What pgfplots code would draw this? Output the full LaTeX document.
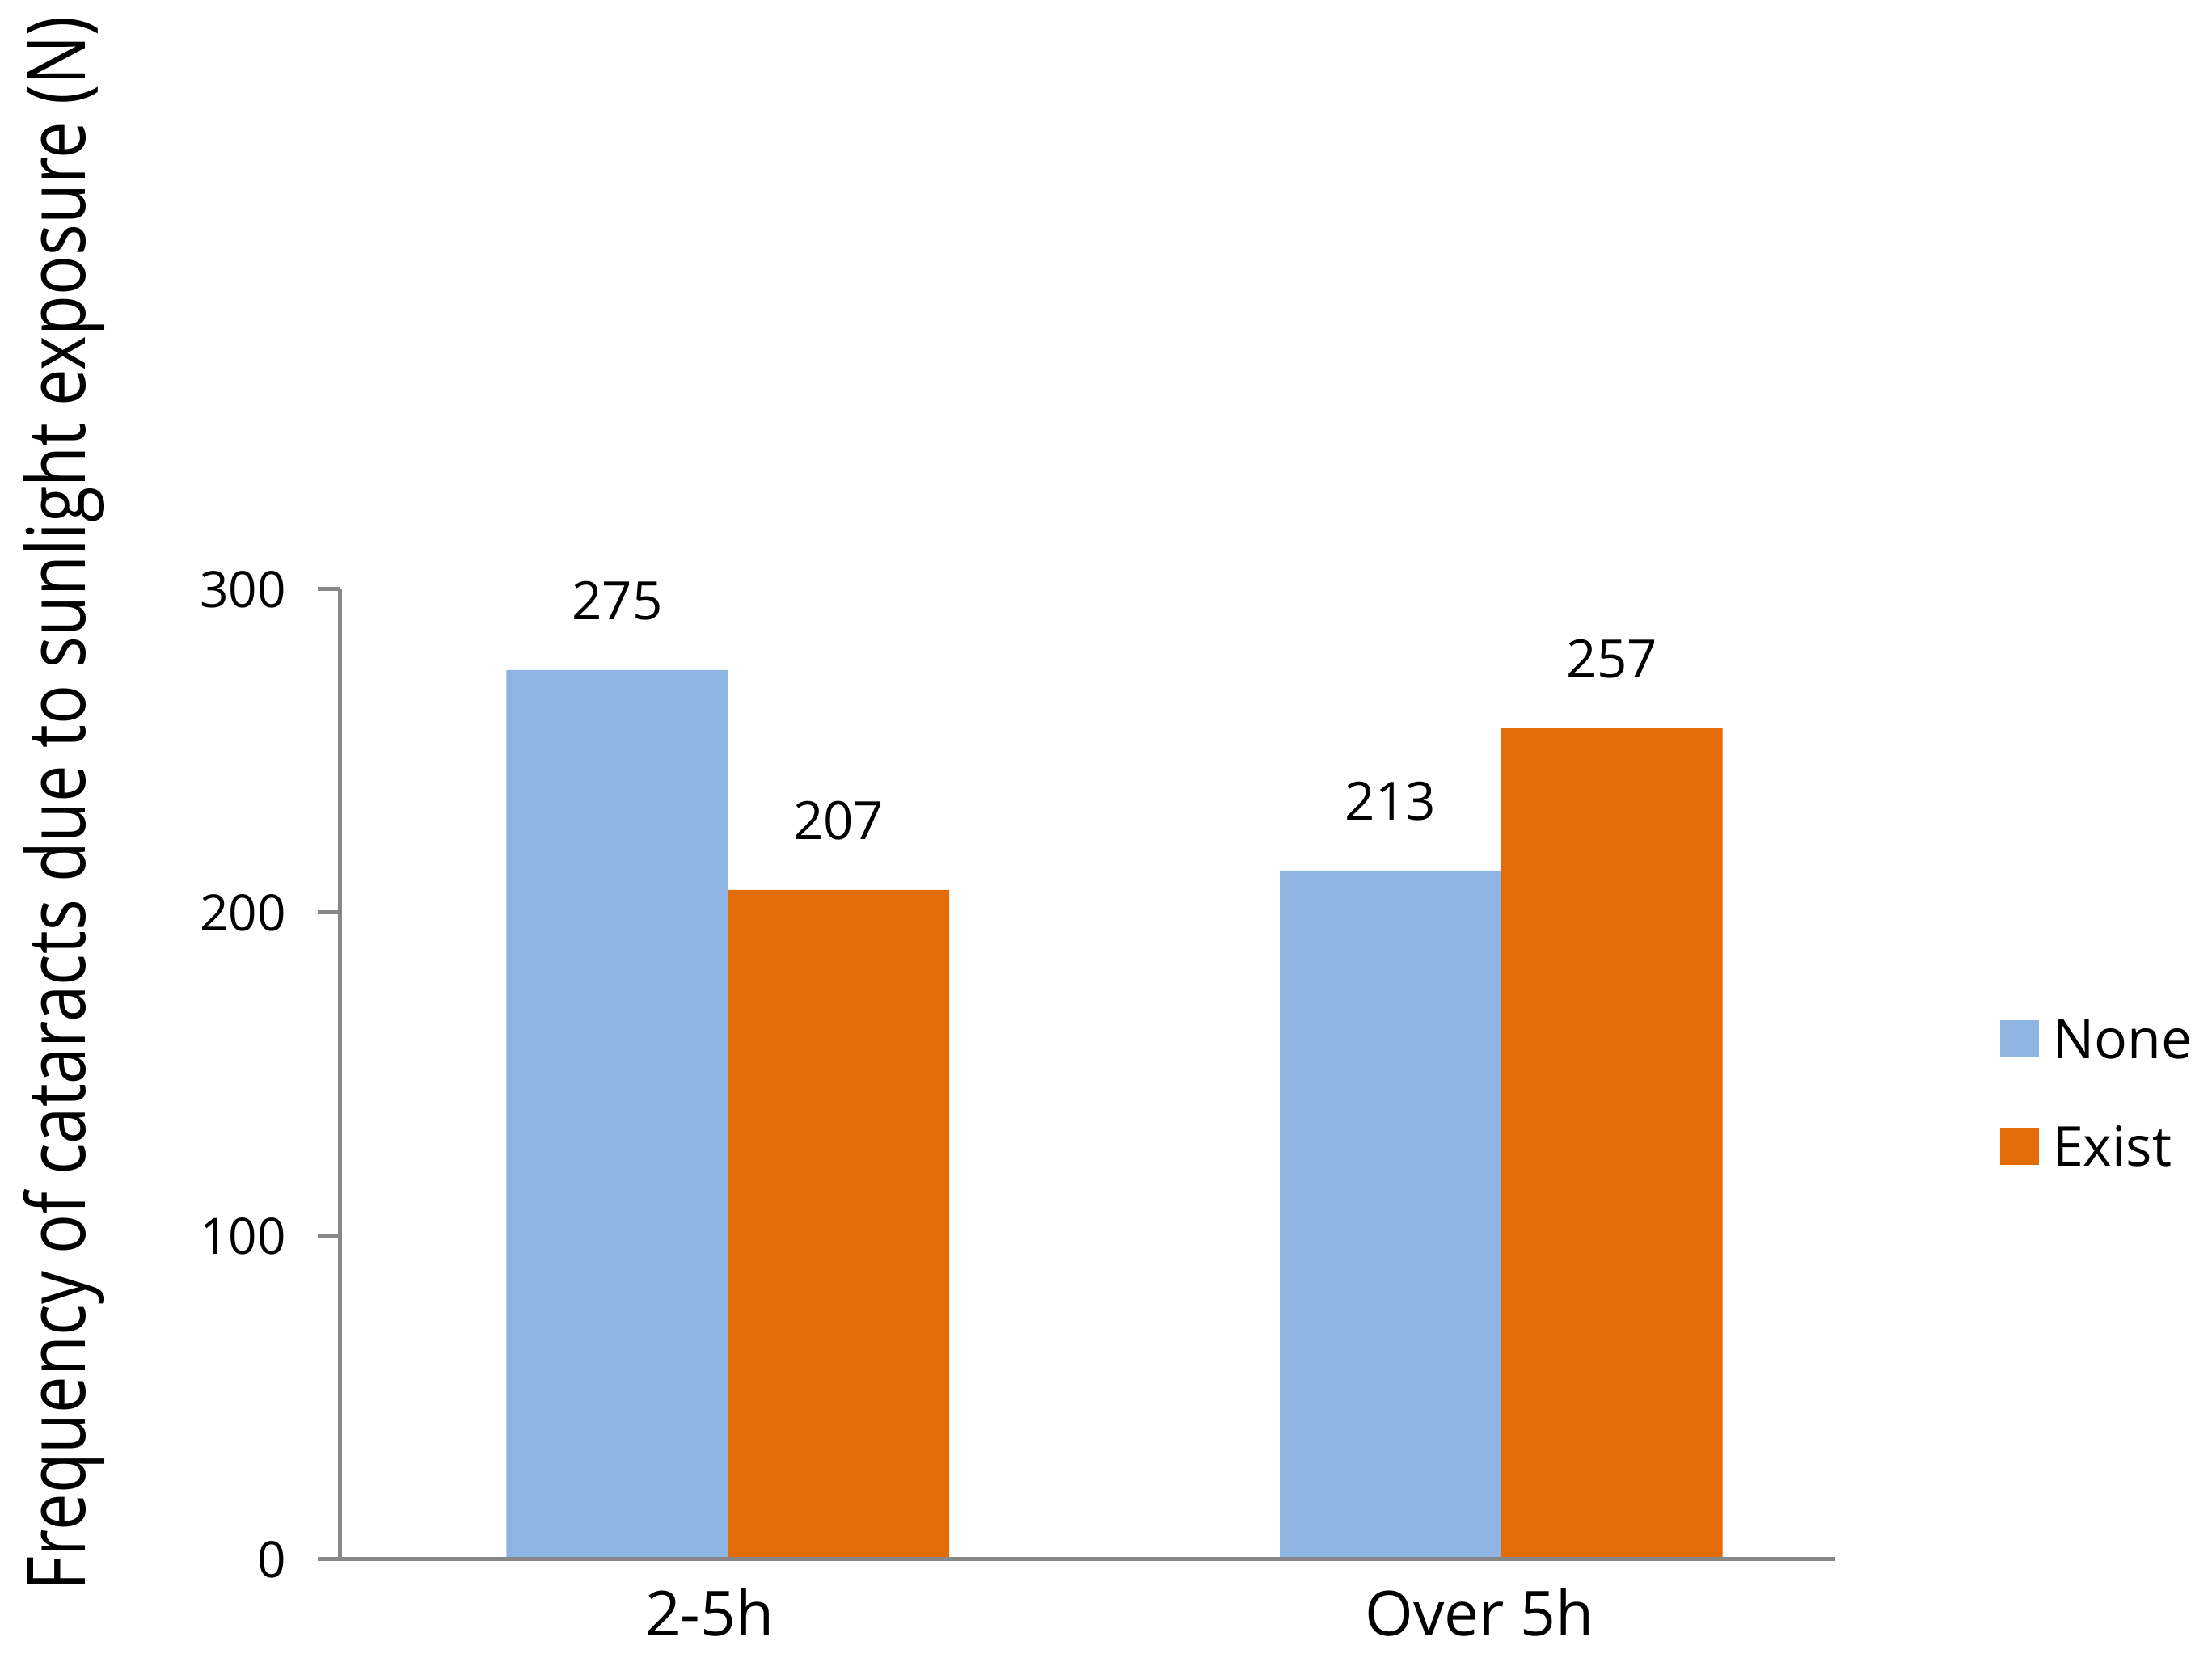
\documentclass[border=0pt]{standalone}
\usepackage{fontspec}
\setmainfont{Open Sans}
\usepackage{graphicx}
\usepackage{pgfplots}
\pgfplotsset{compat=1.18}
\definecolor{barblue}{HTML}{8EB4E3}
\definecolor{barorange}{HTML}{E36C09}
\definecolor{axisgray}{HTML}{878787}
\begin{document}
\begin{tikzpicture}
\begin{axis}[
  at={(0pt,0pt)}, anchor=south west,
  scale only axis,
  width=277.35pt, height=180pt,
  xmin=-0.501, xmax=1.4318,
  ymin=0, ymax=300,
  axis x line=bottom, axis y line=left,
  axis line style={-, draw=axisgray, line width=0.75pt},
  axis on top,
  ytick={0,100,200,300},
  xtick={-0.0235,0.9721},
  xticklabels={2-5h, Over 5h},
  tick align=outside,
  major tick length=4.2pt,
  ytick style={draw=axisgray, line width=0.75pt},
  xtick style={draw=none},
  /pgf/number format/assume math mode=true,
  yticklabel style={font=\fontsize{9.3}{11}\selectfont, anchor=east, inner sep=0pt, xshift=-5.7pt},
  xticklabel style={font=\fontsize{11.5}{14}\selectfont, anchor=base, inner sep=0pt, yshift=-10pt},
  ybar,
  bar width=0.2863,
  nodes near coords,
  nodes near coords style={font=\fontsize{9.8}{12}\selectfont, anchor=base, inner sep=0pt, yshift=9.3pt, text=black},
  legend style={at={(1.1106,0.4813)}, anchor=west, draw=none, fill=none,
    inner sep=0pt, outer sep=0pt, font=\fontsize{10.2}{12}\selectfont,
    row sep=12.7pt, column sep=2.5pt,
    nodes={inner sep=0pt, text height=7.3pt, text depth=0pt}},
  legend cell align=left,
  legend image code/.code={\fill[#1] (0pt,-3.45pt) rectangle (7.2pt,3.45pt);},
]
\addplot[fill=barblue, draw=none, bar shift=-0.1431] coordinates {(0,275) (1,213)};
\addlegendentry{None}
\addplot[fill=barorange, draw=none, bar shift=0.1431] coordinates {(0,207) (1,257)};
\addlegendentry{Exist}
\end{axis}
\node[rotate=90, anchor=base, inner sep=0pt] at (-47.4pt,140.3pt)
  {\resizebox{292pt}{\height}{\fontsize{15}{18}\selectfont Frequency of cataracts due to sunlight exposure (N)}};
\pgfresetboundingbox
\useasboundingbox (-63.15pt,-18.3pt) rectangle (347.25pt,289.35pt);
\end{tikzpicture}
\end{document}
